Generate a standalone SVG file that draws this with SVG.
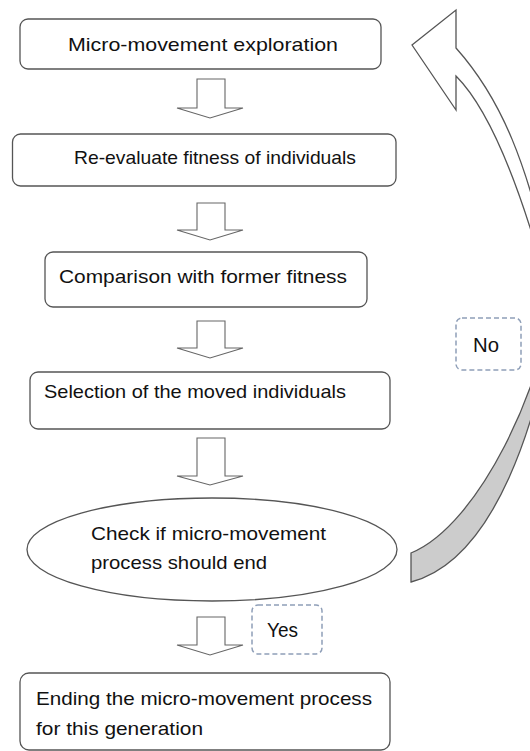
<svg xmlns="http://www.w3.org/2000/svg" width="530" height="751" viewBox="0 0 530 751">
  <defs>
    <style>
      .box { fill: #ffffff; stroke: #555555; stroke-width: 1.3; }
      .tag { fill: #ffffff; stroke: #8f9fb8; stroke-width: 1.5; stroke-dasharray: 5 3; }
      .blk { fill: #ffffff; stroke: #666666; stroke-width: 1.1; stroke-linejoin: miter; }
      .txt { font-family: "Liberation Sans", Arial, sans-serif; font-size: 19px; fill: #111111; }
      .lbl { font-family: "Liberation Sans", Arial, sans-serif; font-size: 21px; fill: #111111; }
      .curve { stroke: #555555; stroke-width: 1.3; stroke-linejoin: miter; }
    </style>
  </defs>
  <rect width="530" height="751" fill="#ffffff"/>

  <!-- connectors: block arrows and the curved return arrow -->
  <g id="connectors">
    <path class="blk" d="M197,79 H225 V108 H243 L210,118 L177,108 H197 Z"/>
    <path class="blk" d="M197,203 H225 V230 H243 L210,240 L177,230 H197 Z"/>
    <path class="blk" d="M197,321 H225 V348 H243 L210,358 L177,348 H197 Z"/>
    <path class="blk" d="M197,438 H225 V476 H243 L210,485 L177,476 H197 Z"/>
    <path class="blk" d="M197,617 H225 V645 H243 L210,655 L177,645 H197 Z"/>
    <!-- return arrow: shaded lower band (runs past the right edge) -->
    <path class="curve" fill="#cccccc" d="M556,300 C540,420 495,560 411,582 L411,553 C480,525 545,380 551,300 Z"/>
    <!-- return arrow: upper band with head -->
    <path class="curve" fill="#ffffff" d="M412,45 L456,10 L456,48 C498,95 530,160 556,300 L551,300 C518,175 485,105 456,76 L456,110 Z"/>
  </g>

  <g id="n1">
    <rect class="box" x="20" y="19" width="361" height="50" rx="8"/>
    <text class="txt" x="68" y="51" textLength="270" lengthAdjust="spacingAndGlyphs">Micro-movement exploration</text>
  </g>
  <g id="n2">
    <rect class="box" x="12.5" y="134" width="383.5" height="52" rx="8"/>
    <text class="txt" x="74" y="164" textLength="282" lengthAdjust="spacingAndGlyphs">Re-evaluate fitness of individuals</text>
  </g>
  <g id="n3">
    <rect class="box" x="45" y="252" width="322" height="55" rx="8"/>
    <text class="txt" x="59" y="283" textLength="288" lengthAdjust="spacingAndGlyphs">Comparison with former fitness</text>
  </g>
  <g id="n4">
    <rect class="box" x="30" y="372" width="360" height="57" rx="8"/>
    <text class="txt" x="44" y="398" textLength="302" lengthAdjust="spacingAndGlyphs">Selection of the moved individuals</text>
  </g>
  <g id="n5">
    <ellipse class="box" cx="212" cy="549.5" rx="185" ry="51.5"/>
    <text class="txt" x="91" y="540" textLength="235" lengthAdjust="spacingAndGlyphs">Check if micro-movement</text>
    <text class="txt" x="91" y="569" textLength="176" lengthAdjust="spacingAndGlyphs">process should end</text>
  </g>
  <g id="n6">
    <rect class="box" x="20" y="673" width="370" height="77" rx="9"/>
    <text class="txt" x="36" y="705" textLength="336" lengthAdjust="spacingAndGlyphs">Ending the micro-movement process</text>
    <text class="txt" x="36" y="735" textLength="167" lengthAdjust="spacingAndGlyphs">for this generation</text>
  </g>

  <g id="label-no">
    <rect class="tag" x="456" y="318" width="65" height="52" rx="6"/>
    <text class="lbl" x="473" y="352" textLength="26" lengthAdjust="spacingAndGlyphs">No</text>
  </g>
  <g id="label-yes">
    <rect class="tag" x="252" y="605" width="70" height="49" rx="6"/>
    <text class="lbl" x="267" y="637" textLength="31" lengthAdjust="spacingAndGlyphs">Yes</text>
  </g>
</svg>
